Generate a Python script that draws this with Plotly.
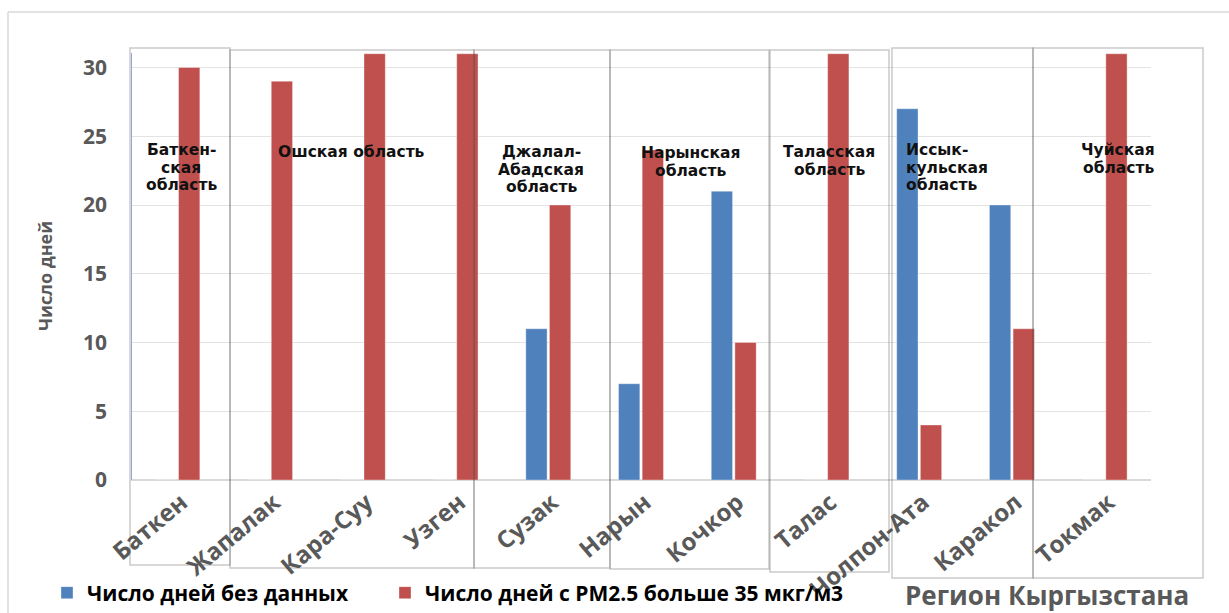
import plotly.graph_objects as go

# Stations (x categories) and day counts for each series
stations = ["Баткен", "Жапалак", "Кара-Суу", "Узген", "Сузак", "Нарын",
            "Кочкор", "Талас", "Чолпон-Ата", "Каракол", "Токмак"]
days_no_data = [0, 0, 0, 0, 11, 7, 21, 0, 27, 20, 0]
days_pm25_over = [30, 29, 31, 31, 20, 24, 10, 31, 4, 11, 31]

series_names = ["Число дней без данных", "Число дней с РМ2.5 больше 35 мкг/м3"]
y_title = "Число дней"
x_title = "Регион Кыргызстана"
y_ticks = [0, 5, 10, 15, 20, 25, 30]

region_labels = [["Баткен-", "ская", "область"], ["Ошская область"],
                 ["Джалал-", "Абадская", "область"], ["Нарынская", "область"],
                 ["Таласская", "область"], ["Иссык-", "кульская", "область"],
                 ["Чуйская", "область"]]

# ---- layout geometry (pixels on the 1229x613 canvas) ----
W, H = 1229, 613
PL, PR, PT, PB = 131, 1151, 40, 480

def fx(xp):
    return (xp - PL) / (PR - PL)

def fy(yp):
    return (PB - yp) / (PB - PT)

# region frames: (left, top, right, bottom)
region_frames = [(130, 48, 230, 565), (230, 50, 474, 568), (474, 50, 610, 568),
                 (610, 50, 769, 569), (770, 50, 889, 572), (892, 48, 1033, 578),
                 (1033, 48, 1203, 578)]
# label anchor: (x, first-line y, align)
region_label_pos = [(181, 150, "center"), (351, 152, "center"), (541, 152, "center"),
                    (690, 153, "center"), (829, 152, "center"), (904, 150, "left"),
                    (1118, 150, "center")]
LINE_STEP = 17.5

BLUE = "#4F81BD"
RED = "#C0504D"
GREY_TXT = "#595959"
TICK_FONT = "Open Sans"

fig = go.Figure()
fig.add_trace(go.Bar(x=stations, y=days_no_data, name=series_names[0], legend="legend",
                     marker=dict(color=BLUE, line=dict(color="rgba(255,255,255,0.35)", width=1))))
fig.add_trace(go.Bar(x=stations, y=days_pm25_over, name=series_names[1], legend="legend2",
                     marker=dict(color=RED, line=dict(color="rgba(255,255,255,0.35)", width=1))))

shapes = []
# outer chart frame (top and left edges)
shapes.append(dict(type="line", xref="paper", yref="paper", x0=fx(8), x1=fx(1240),
                   y0=fy(12), y1=fy(12), line=dict(color="#D9D9D9", width=1.5)))
shapes.append(dict(type="line", xref="paper", yref="paper", x0=fx(8), x1=fx(8),
                   y0=fy(12), y1=fy(620), line=dict(color="#D9D9D9", width=1.5)))
# thin blue edge along the value axis
shapes.append(dict(type="line", xref="paper", yref="paper", x0=fx(131.5), x1=fx(131.5),
                   y0=fy(53), y1=fy(480), line=dict(color="#8DA9D6", width=1)))
# region frames
for (l, t, r, b) in region_frames:
    shapes.append(dict(type="rect", xref="paper", yref="paper", layer="above",
                       x0=fx(l), x1=fx(r), y0=fy(b), y1=fy(t),
                       line=dict(color="rgba(80,80,80,0.3)", width=1.5),
                       fillcolor="rgba(0,0,0,0)"))

annotations = []
for lines, (x, y, al) in zip(region_labels, region_label_pos):
    for k, line in enumerate(lines):
        annotations.append(dict(xref="paper", yref="paper", x=fx(x), y=fy(y + k * LINE_STEP),
                                xanchor="left" if al == "left" else "center",
                                yanchor="middle", showarrow=False, text=line,
                                font=dict(family="DejaVu Sans", size=15.5, color="#111111",
                                          weight="bold")))
annotations.append(dict(xref="paper", yref="paper", x=fx(903), y=fy(595),
                        xanchor="left", yanchor="middle", showarrow=False, text=x_title,
                        font=dict(family=TICK_FONT, size=26, color=GREY_TXT, weight="bold")))
annotations.append(dict(xref="paper", yref="paper", x=fx(45), y=fy(276),
                        xanchor="center", yanchor="middle", showarrow=False, text=y_title,
                        textangle=-90,
                        font=dict(family=TICK_FONT, size=18, color=GREY_TXT, weight="bold")))

legend_font = dict(family=TICK_FONT, size=21, color="#000000", weight="bold")
fig.update_layout(
    width=W, height=H,
    margin=dict(l=PL, r=W - PR, t=PT, b=H - PB, autoexpand=False),
    paper_bgcolor="white", plot_bgcolor="white",
    barmode="group", bargap=0.49, bargroupgap=0.1,
    showlegend=True,
    legend=dict(orientation="h", x=fx(47), y=fy(593), xanchor="left", yanchor="middle",
                font=legend_font, itemwidth=30, bgcolor="rgba(0,0,0,0)"),
    legend2=dict(orientation="h", x=fx(385), y=fy(593), xanchor="left", yanchor="middle",
                 font=legend_font, itemwidth=30, bgcolor="rgba(0,0,0,0)"),
    shapes=shapes, annotations=annotations,
    xaxis=dict(type="category", range=[-0.5, len(stations) - 0.5], tickangle=-40,
               showgrid=False, showline=True, linecolor="#D9D9D9", linewidth=1,
               ticks="", ticklabelstandoff=-2, ticklabelshift=4,
               tickfont=dict(family=TICK_FONT, size=24, color=GREY_TXT, weight="bold")),
    yaxis=dict(range=[0, 32], tickvals=y_ticks, showgrid=True, gridcolor="#E3E3E3",
               gridwidth=1, zeroline=True, zerolinecolor="#D9D9D9", showline=False,
               ticks="", ticklabelstandoff=23,
               tickfont=dict(family=TICK_FONT, size=21, color=GREY_TXT, weight="bold")),
)

fig.write_html("out.html")
